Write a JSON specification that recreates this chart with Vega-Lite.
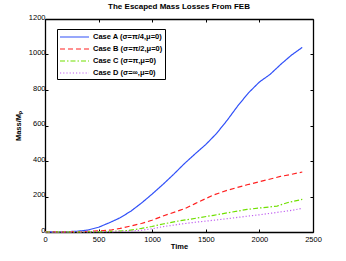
{
  "$schema": "https://vega.github.io/schema/vega-lite/v6.json",
  "width": 268,
  "height": 213,
  "autosize": "none",
  "padding": {"left": 45, "top": 19, "right": 33, "bottom": 29},
  "background": "white",
  "config": {
    "font": "Liberation Sans",
    "view": {"stroke": null},
    "axis": {
      "grid": false,
      "domainColor": "black",
      "domainWidth": 1.3,
      "tickColor": "black",
      "tickSize": -3,
      "labelFontSize": 7.5,
      "labelColor": "black",
      "labelFont": "Liberation Sans",
      "titleFont": "Liberation Sans",
      "titleFontSize": 7.5,
      "titleFontWeight": "bold",
      "titleColor": "black",
      "format": "d",
      "labelFlush": false,
      "labelOverlap": false
    }
  },
  "title": {
    "text": "The Escaped  Mass Losses From FEB",
    "fontSize": 8,
    "fontWeight": "bold",
    "font": "Liberation Sans",
    "color": "black",
    "offset": 2
  },
  "data": {
    "values": [
      {"case": "Case A (σ=π/4,μ=0)", "t": 0, "m": 0},
      {"case": "Case A (σ=π/4,μ=0)", "t": 100, "m": 1},
      {"case": "Case A (σ=π/4,μ=0)", "t": 200, "m": 2},
      {"case": "Case A (σ=π/4,μ=0)", "t": 300, "m": 4},
      {"case": "Case A (σ=π/4,μ=0)", "t": 400, "m": 11},
      {"case": "Case A (σ=π/4,μ=0)", "t": 500, "m": 27},
      {"case": "Case A (σ=π/4,μ=0)", "t": 600, "m": 52},
      {"case": "Case A (σ=π/4,μ=0)", "t": 700, "m": 80},
      {"case": "Case A (σ=π/4,μ=0)", "t": 800, "m": 117},
      {"case": "Case A (σ=π/4,μ=0)", "t": 900, "m": 163},
      {"case": "Case A (σ=π/4,μ=0)", "t": 1000, "m": 214},
      {"case": "Case A (σ=π/4,μ=0)", "t": 1100, "m": 268},
      {"case": "Case A (σ=π/4,μ=0)", "t": 1200, "m": 325},
      {"case": "Case A (σ=π/4,μ=0)", "t": 1300, "m": 385},
      {"case": "Case A (σ=π/4,μ=0)", "t": 1400, "m": 440},
      {"case": "Case A (σ=π/4,μ=0)", "t": 1500, "m": 493},
      {"case": "Case A (σ=π/4,μ=0)", "t": 1600, "m": 555},
      {"case": "Case A (σ=π/4,μ=0)", "t": 1700, "m": 630},
      {"case": "Case A (σ=π/4,μ=0)", "t": 1800, "m": 712},
      {"case": "Case A (σ=π/4,μ=0)", "t": 1900, "m": 785},
      {"case": "Case A (σ=π/4,μ=0)", "t": 2000, "m": 845},
      {"case": "Case A (σ=π/4,μ=0)", "t": 2100, "m": 888},
      {"case": "Case A (σ=π/4,μ=0)", "t": 2200, "m": 945},
      {"case": "Case A (σ=π/4,μ=0)", "t": 2300, "m": 997},
      {"case": "Case A (σ=π/4,μ=0)", "t": 2400, "m": 1040},
      {"case": "Case B (σ=π/2,μ=0)", "t": 0, "m": 0},
      {"case": "Case B (σ=π/2,μ=0)", "t": 200, "m": 1},
      {"case": "Case B (σ=π/2,μ=0)", "t": 400, "m": 3},
      {"case": "Case B (σ=π/2,μ=0)", "t": 500, "m": 6},
      {"case": "Case B (σ=π/2,μ=0)", "t": 623, "m": 12},
      {"case": "Case B (σ=π/2,μ=0)", "t": 700, "m": 20},
      {"case": "Case B (σ=π/2,μ=0)", "t": 779, "m": 31},
      {"case": "Case B (σ=π/2,μ=0)", "t": 900, "m": 48},
      {"case": "Case B (σ=π/2,μ=0)", "t": 997, "m": 66},
      {"case": "Case B (σ=π/2,μ=0)", "t": 1100, "m": 90},
      {"case": "Case B (σ=π/2,μ=0)", "t": 1262, "m": 123},
      {"case": "Case B (σ=π/2,μ=0)", "t": 1308, "m": 133},
      {"case": "Case B (σ=π/2,μ=0)", "t": 1400, "m": 160},
      {"case": "Case B (σ=π/2,μ=0)", "t": 1573, "m": 209},
      {"case": "Case B (σ=π/2,μ=0)", "t": 1700, "m": 235},
      {"case": "Case B (σ=π/2,μ=0)", "t": 1885, "m": 266},
      {"case": "Case B (σ=π/2,μ=0)", "t": 2000, "m": 283},
      {"case": "Case B (σ=π/2,μ=0)", "t": 2196, "m": 313},
      {"case": "Case B (σ=π/2,μ=0)", "t": 2300, "m": 325},
      {"case": "Case B (σ=π/2,μ=0)", "t": 2400, "m": 338},
      {"case": "Case C (σ=π,μ=0)", "t": 0, "m": 0},
      {"case": "Case C (σ=π,μ=0)", "t": 300, "m": 1},
      {"case": "Case C (σ=π,μ=0)", "t": 500, "m": 2},
      {"case": "Case C (σ=π,μ=0)", "t": 650, "m": 4},
      {"case": "Case C (σ=π,μ=0)", "t": 779, "m": 9},
      {"case": "Case C (σ=π,μ=0)", "t": 900, "m": 20},
      {"case": "Case C (σ=π,μ=0)", "t": 997, "m": 31},
      {"case": "Case C (σ=π,μ=0)", "t": 1100, "m": 45},
      {"case": "Case C (σ=π,μ=0)", "t": 1262, "m": 64},
      {"case": "Case C (σ=π,μ=0)", "t": 1355, "m": 72},
      {"case": "Case C (σ=π,μ=0)", "t": 1450, "m": 82},
      {"case": "Case C (σ=π,μ=0)", "t": 1573, "m": 94},
      {"case": "Case C (σ=π,μ=0)", "t": 1700, "m": 108},
      {"case": "Case C (σ=π,μ=0)", "t": 1885, "m": 127},
      {"case": "Case C (σ=π,μ=0)", "t": 2000, "m": 135},
      {"case": "Case C (σ=π,μ=0)", "t": 2165, "m": 146},
      {"case": "Case C (σ=π,μ=0)", "t": 2259, "m": 165},
      {"case": "Case C (σ=π,μ=0)", "t": 2400, "m": 184},
      {"case": "Case D (σ=∞,μ=0)", "t": 0, "m": 0},
      {"case": "Case D (σ=∞,μ=0)", "t": 400, "m": 1},
      {"case": "Case D (σ=∞,μ=0)", "t": 600, "m": 2},
      {"case": "Case D (σ=∞,μ=0)", "t": 800, "m": 5},
      {"case": "Case D (σ=∞,μ=0)", "t": 900, "m": 10},
      {"case": "Case D (σ=∞,μ=0)", "t": 997, "m": 18},
      {"case": "Case D (σ=∞,μ=0)", "t": 1100, "m": 30},
      {"case": "Case D (σ=∞,μ=0)", "t": 1246, "m": 43},
      {"case": "Case D (σ=∞,μ=0)", "t": 1400, "m": 55},
      {"case": "Case D (σ=∞,μ=0)", "t": 1573, "m": 66},
      {"case": "Case D (σ=∞,μ=0)", "t": 1700, "m": 75},
      {"case": "Case D (σ=∞,μ=0)", "t": 1885, "m": 89},
      {"case": "Case D (σ=∞,μ=0)", "t": 2000, "m": 97},
      {"case": "Case D (σ=∞,μ=0)", "t": 2196, "m": 113},
      {"case": "Case D (σ=∞,μ=0)", "t": 2300, "m": 122},
      {"case": "Case D (σ=∞,μ=0)", "t": 2400, "m": 133}
    ]
  },
  "layer": [
    {
      "mark": {"type": "line", "strokeWidth": 1.2},
      "encoding": {
        "x": {
          "field": "t", "type": "quantitative",
          "scale": {"domain": [0, 2500], "nice": false, "zero": false},
          "axis": {"values": [0, 500, 1000, 1500, 2000, 2500], "title": "Time", "titlePadding": 0, "labelPadding": 6}
        },
        "y": {
          "field": "m", "type": "quantitative",
          "scale": {"domain": [0, 1200], "nice": false},
          "axis": {"values": [0, 200, 400, 600, 800, 1000, 1200], "title": "Mass/Mₚ", "titlePadding": 6, "labelPadding": 3, "labelOffset": -2}
        },
        "color": {
          "field": "case", "type": "nominal",
          "scale": {
            "domain": ["Case A (σ=π/4,μ=0)", "Case B (σ=π/2,μ=0)", "Case C (σ=π,μ=0)", "Case D (σ=∞,μ=0)"],
            "range": ["#3050f8", "#ff2020", "#70e000", "#c060f0"]
          },
          "legend": {
            "title": null,
            "orient": "none",
            "legendX": 12,
            "legendY": 10,
            "strokeColor": "black",
            "fillColor": "white",
            "padding": 2,
            "symbolType": "M-1,0H4.8",
            "symbolSize": 100,
            "symbolStrokeWidth": 1.2,
            "labelOffset": 22,
            "labelFontSize": 7.5,
            "labelFontWeight": "bold",
            "labelColor": "black",
            "labelFont": "Liberation Sans",
            "rowPadding": 2,
            "labelLimit": 200
          }
        },
        "strokeDash": {
          "field": "case", "type": "nominal",
          "scale": {
            "domain": ["Case A (σ=π/4,μ=0)", "Case B (σ=π/2,μ=0)", "Case C (σ=π,μ=0)", "Case D (σ=∞,μ=0)"],
            "range": [[1, 0], [5, 3], [5, 2, 1.5, 2], [1.2, 2]]
          },
          "legend": null
        }
      }
    },
    {
      "mark": {"type": "point", "opacity": 0},
      "encoding": {
        "x": {
          "field": "t", "type": "quantitative",
          "axis": {"orient": "top", "values": [0, 500, 1000, 1500, 2000, 2500], "labels": false, "title": null}
        },
        "y": {
          "field": "m", "type": "quantitative",
          "axis": {"orient": "right", "values": [0, 200, 400, 600, 800, 1000, 1200], "labels": false, "title": null}
        }
      }
    }
  ],
  "resolve": {"axis": {"x": "independent", "y": "independent"}}
}
